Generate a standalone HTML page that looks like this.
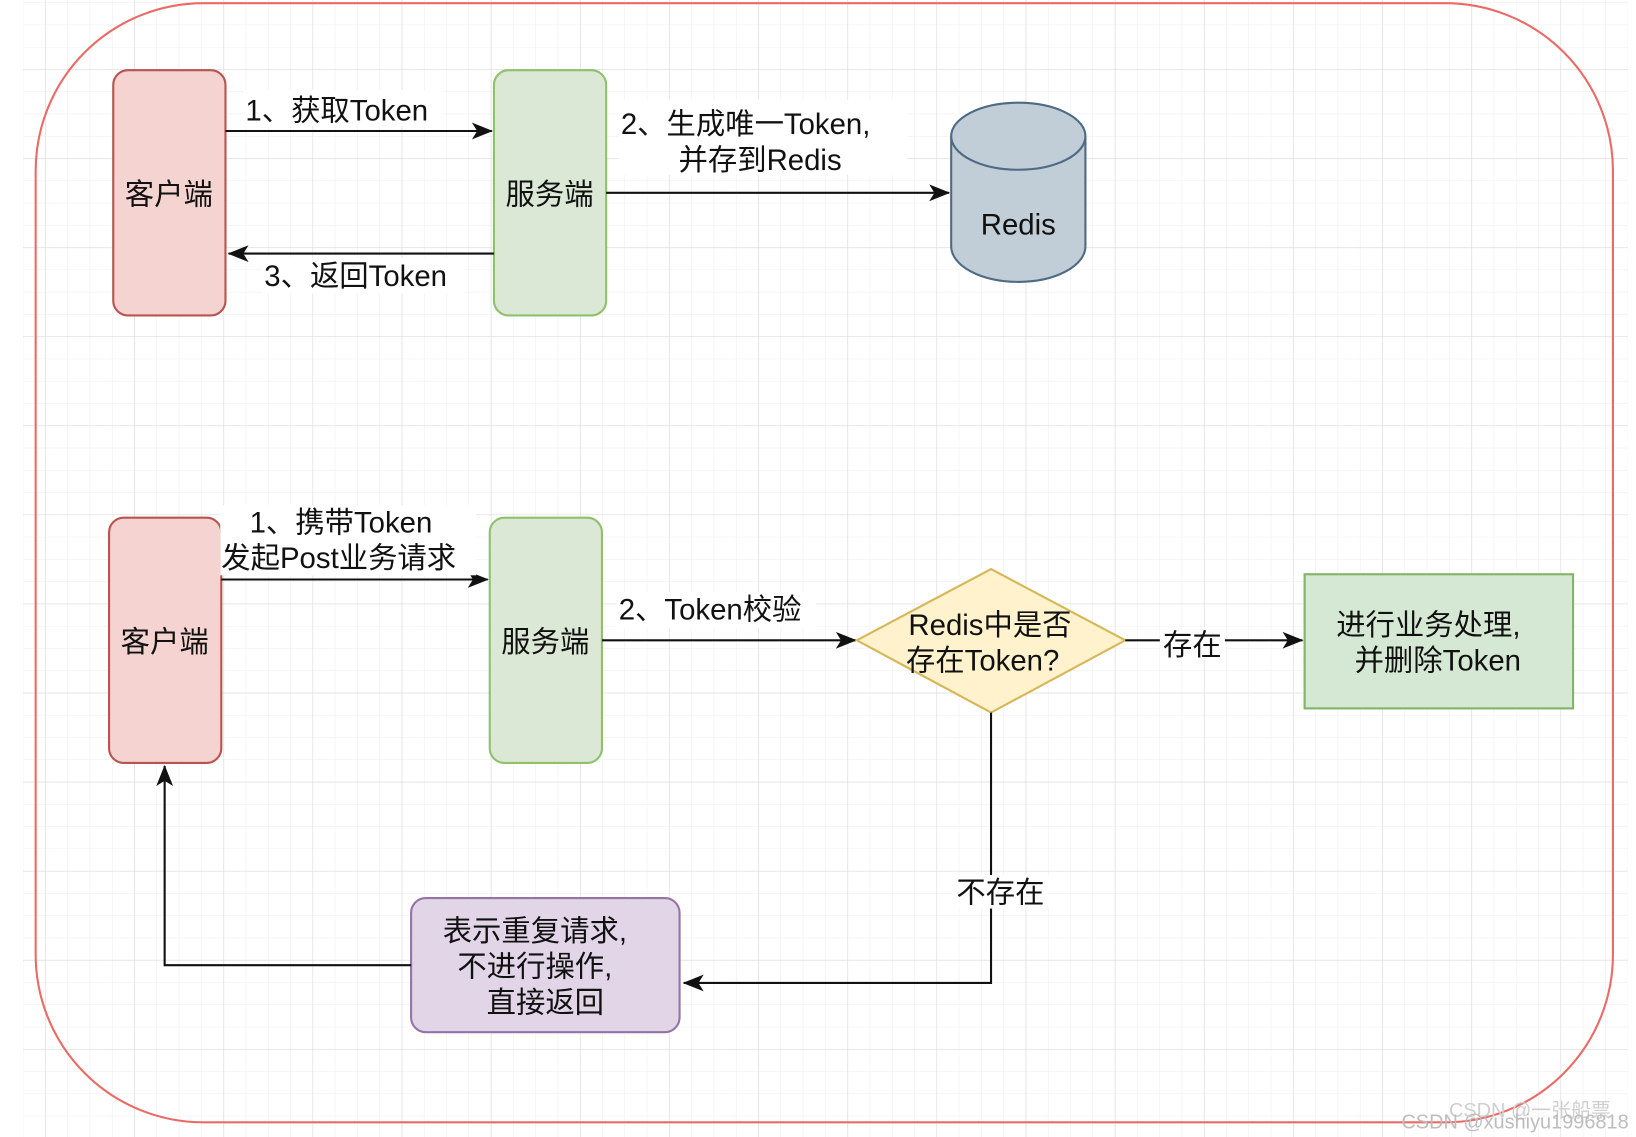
<!DOCTYPE html>
<html><head><meta charset="utf-8"><style>
html,body{margin:0;padding:0;background:#fff;}
svg{display:block;}
text{font-family:"Liberation Sans","Noto Sans CJK SC",sans-serif;fill:#111;}
</style></head><body>
<svg width="1636" height="1137" viewBox="0 0 1560 1085" preserveAspectRatio="none" xmlns="http://www.w3.org/2000/svg">
<defs>
<pattern id="minor" x="1" y="2.75" width="21.25" height="21.25" patternUnits="userSpaceOnUse"><path d="M21.25 0V21.25M0 21.25H21.25" stroke="#eeeeee" stroke-width="1" fill="none"/></pattern>
<pattern id="major" x="43" y="66" width="85" height="85" patternUnits="userSpaceOnUse"><path d="M0 0V85M0 0H85" stroke="#dcdcdc" stroke-width="1.2" fill="none"/></pattern>
<marker id="arL" viewBox="0 0 20 20" refX="19" refY="10" markerWidth="20" markerHeight="20" markerUnits="userSpaceOnUse" orient="auto"><path d="M0 2L20 10L0 18L5 10Z" fill="#111"/></marker>
</defs>
<rect x="22" y="0" width="1530" height="1085" fill="url(#minor)"/>
<rect x="22" y="0" width="1530" height="1085" fill="url(#major)"/>
<rect x="34" y="3" width="1504" height="1068" rx="160" fill="none" stroke="#ea6b66" stroke-width="2"/>

<!-- top -->
<rect x="108" y="67" width="107" height="234" rx="14" fill="#f4d3d0" stroke="#b85450" stroke-width="2"/>
<text x="161" y="195" font-size="28" text-anchor="middle">客户端</text>
<rect x="471" y="67" width="107" height="234" rx="14" fill="#dbe8d6" stroke="#8fc06b" stroke-width="2"/>
<text x="524" y="195" font-size="28" text-anchor="middle">服务端</text>
<path d="M907 130V235A64 34 0 0 0 1035 235V130" fill="#c1cdd7" stroke="#4e6a84" stroke-width="2"/>
<ellipse cx="971" cy="130" rx="64" ry="32" fill="#c1cdd7" stroke="#4e6a84" stroke-width="2"/>
<text x="971" y="224" font-size="28" text-anchor="middle">Redis</text>

<line x1="215" y1="125" x2="469" y2="125" stroke="#111" stroke-width="2" marker-end="url(#arL)"/>
<rect x="232" y="86" width="190" height="34" fill="#fff"/>
<text x="234" y="115" font-size="28">1、获取Token</text>
<line x1="471" y1="242" x2="218" y2="242" stroke="#111" stroke-width="2" marker-end="url(#arL)"/>
<rect x="250" y="246" width="192" height="34" fill="#fff"/>
<text x="252" y="273" font-size="28">3、返回Token</text>
<line x1="578" y1="184" x2="905" y2="184" stroke="#111" stroke-width="2" marker-end="url(#arL)"/>
<rect x="590" y="95" width="275" height="72" fill="#fff"/>
<text x="592" y="128" font-size="28">2、生成唯一Token,</text>
<text x="647" y="162" font-size="28">并存到Redis</text>

<!-- bottom -->
<rect x="104" y="494" width="107" height="234" rx="14" fill="#f4d3d0" stroke="#b85450" stroke-width="2"/>
<text x="157" y="622" font-size="28" text-anchor="middle">客户端</text>
<rect x="467" y="494" width="107" height="234" rx="14" fill="#dbe8d6" stroke="#8fc06b" stroke-width="2"/>
<text x="520" y="622" font-size="28" text-anchor="middle">服务端</text>

<line x1="211" y1="553" x2="465" y2="553" stroke="#111" stroke-width="2" marker-end="url(#arL)"/>
<rect x="210" y="482" width="244" height="67" fill="#fff"/>
<text x="238" y="508" font-size="28">1、携带Token</text>
<text x="211" y="542" font-size="28">发起Post业务请求</text>

<line x1="574" y1="611" x2="816" y2="611" stroke="#111" stroke-width="2" marker-end="url(#arL)"/>
<rect x="588" y="565" width="190" height="34" fill="#fff"/>
<text x="590" y="591" font-size="28">2、Token校验</text>

<polygon points="945,543 1073,611 945,680 817,611" fill="#fff2cc" stroke="#d6b656" stroke-width="2"/>
<text x="944" y="606" font-size="28" text-anchor="middle">Redis中是否</text>
<text x="937" y="640" font-size="28" text-anchor="middle">存在Token?</text>

<line x1="1073" y1="611" x2="1242" y2="611" stroke="#111" stroke-width="2" marker-end="url(#arL)"/>
<rect x="1106" y="598" width="62" height="30" fill="#fff"/>
<text x="1137" y="625" font-size="28" text-anchor="middle">存在</text>

<rect x="1244" y="548" width="256" height="128" fill="#d5e8d4" stroke="#82b366" stroke-width="2"/>
<text x="1362" y="606" font-size="28" text-anchor="middle">进行业务处理,</text>
<text x="1371" y="640" font-size="28" text-anchor="middle">并删除Token</text>

<polyline points="945,680 945,938 652,938" fill="none" stroke="#111" stroke-width="2" marker-end="url(#arL)"/>
<rect x="908" y="835" width="92" height="32" fill="#fff"/>
<text x="954" y="861" font-size="28" text-anchor="middle">不存在</text>

<rect x="392" y="857" width="256" height="128" rx="14" fill="#e1d5e7" stroke="#9673a6" stroke-width="2"/>
<text x="510" y="898" font-size="28" text-anchor="middle">表示重复请求,</text>
<text x="510" y="932" font-size="28" text-anchor="middle">不进行操作,</text>
<text x="520" y="966" font-size="28" text-anchor="middle">直接返回</text>

<polyline points="392,921 157,921 157,731" fill="none" stroke="#111" stroke-width="2" marker-end="url(#arL)"/>

<text x="1536" y="1066" font-size="19" text-anchor="end" style="fill:#cfcfcf">CSDN @一张船票</text>
<text x="1553" y="1077" font-size="19" text-anchor="end" style="fill:#bdbdbd">CSDN @xushiyu1996818</text>
</svg>
</body></html>
